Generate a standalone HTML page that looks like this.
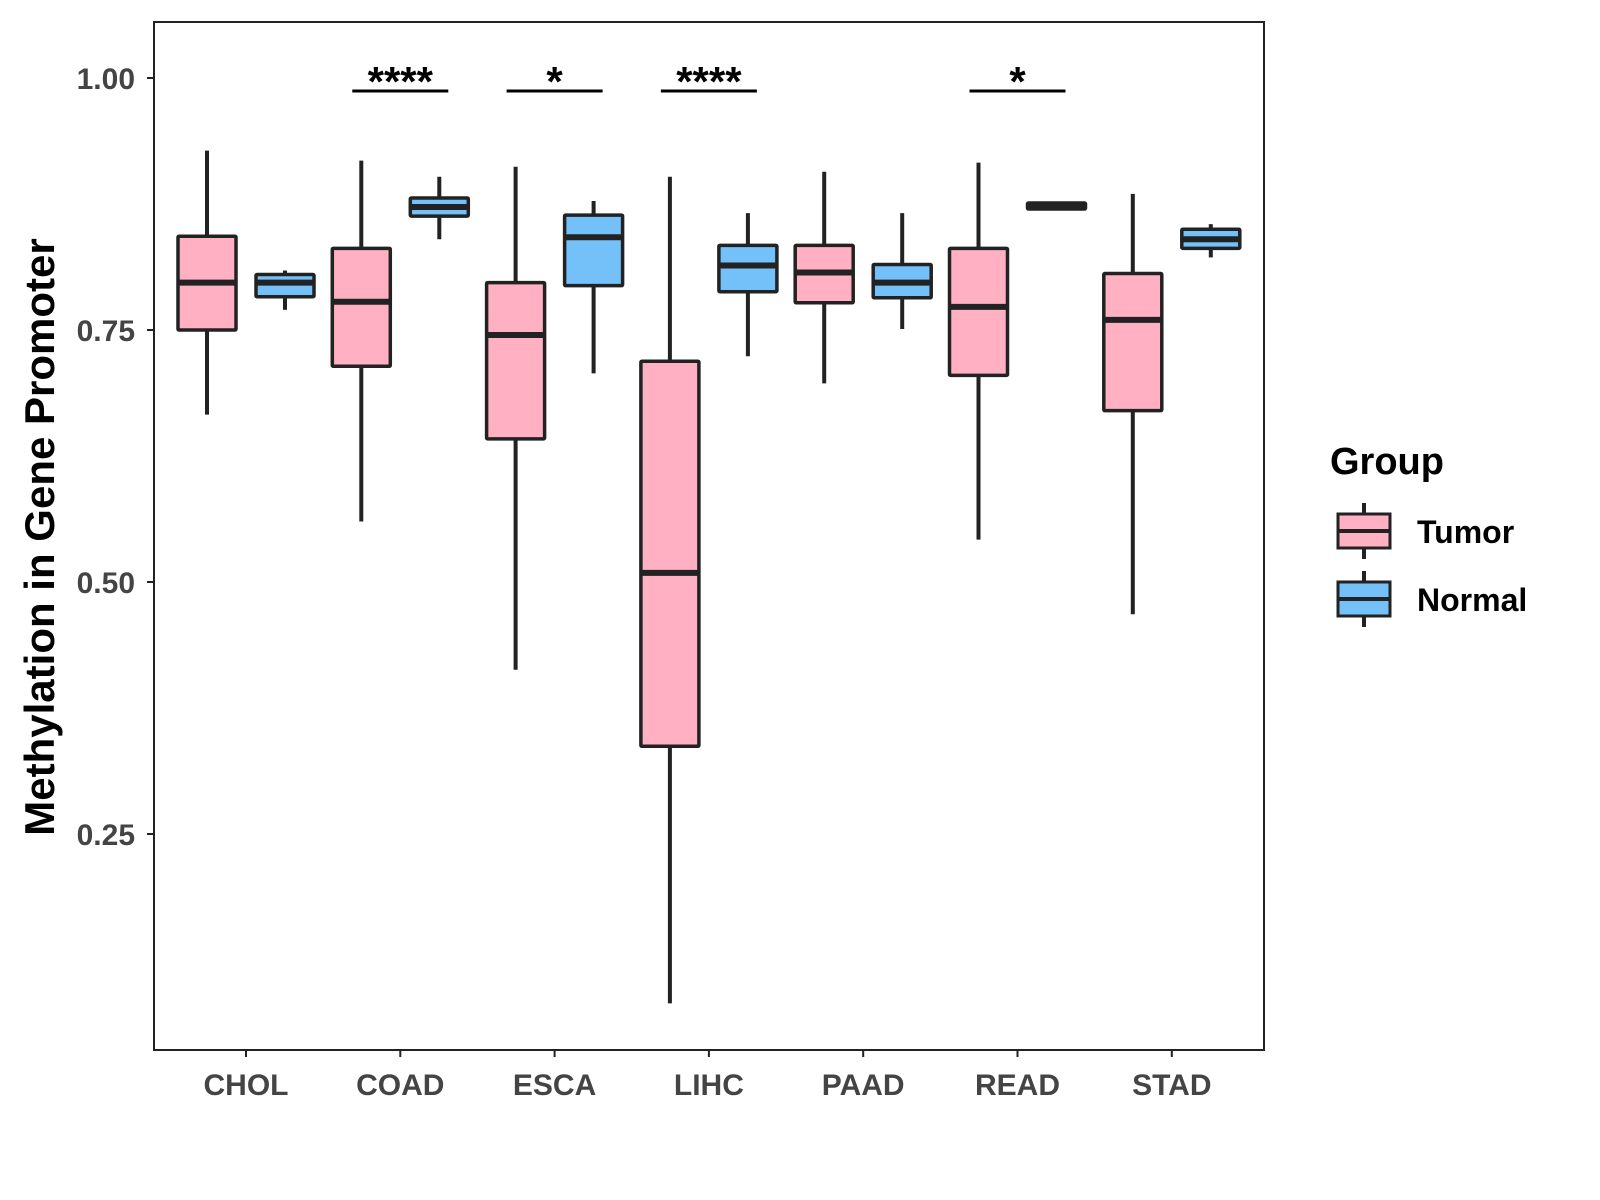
<!DOCTYPE html>
<html><head><meta charset="utf-8"><style>body{margin:0;background:#fff}svg{display:block}text{font-family:"Liberation Sans",Arial,sans-serif;font-weight:bold}</style></head>
<body>
<svg id="chart" width="1600" height="1200" xmlns="http://www.w3.org/2000/svg">
<rect x="154" y="22" width="1110" height="1028" fill="#fff" stroke="#222" stroke-width="2"/>
<g id="marks"></g>
<text transform="translate(54,537) rotate(-90)" text-anchor="middle" font-size="42" fill="#000">Methylation in Gene Promoter</text>
<text x="1330" y="474" font-size="38" fill="#000">Group</text>
<g>
<line x1="1364" y1="503" x2="1364" y2="559" stroke="#222" stroke-width="4"/>
<rect x="1338" y="514" width="52" height="34" fill="#ffb0c2" stroke="#222" stroke-width="3"/>
<line x1="1338" y1="531" x2="1390" y2="531" stroke="#222" stroke-width="4"/>
<text x="1417" y="543" font-size="32" fill="#000">Tumor</text></g>
<g>
<line x1="1364" y1="571" x2="1364" y2="627" stroke="#222" stroke-width="4"/>
<rect x="1338" y="582" width="52" height="34" fill="#74c0f8" stroke="#222" stroke-width="3"/>
<line x1="1338" y1="599" x2="1390" y2="599" stroke="#222" stroke-width="4"/>
<text x="1417" y="611" font-size="32" fill="#000">Normal</text></g>
</svg>
<script>
const categories=["CHOL","COAD","ESCA","LIHC","PAAD","READ","STAD"];
// [whiskerHigh, whiskerLow, q3, q1, median]
const tumor=[[0.928,0.666,0.843,0.750,0.797],[0.918,0.560,0.831,0.714,0.778],[0.912,0.413,0.797,0.642,0.745],[0.902,0.082,0.719,0.337,0.509],[0.907,0.697,0.834,0.777,0.807],[0.916,0.542,0.831,0.705,0.773],[0.885,0.468,0.806,0.670,0.760]];
const normal=[[0.809,0.770,0.805,0.783,0.797],[0.902,0.840,0.881,0.863,0.872],[0.878,0.707,0.864,0.794,0.842],[0.866,0.724,0.834,0.788,0.814],[0.866,0.751,0.815,0.782,0.797],[0.876,0.870,0.876,0.870,0.873],[0.855,0.822,0.850,0.831,0.840]];
const yTicks=[0.25,0.50,0.75,1.00];
const yTickLabels=["0.25","0.50","0.75","1.00"];
const sigCats=["COAD","ESCA","LIHC","READ"];
const sigLabels=["****","*","****","*"];
const NS="http://www.w3.org/2000/svg";
const g=document.getElementById('marks');
function y(v){return 78+(1-v)*1008;}
function x(i){return 246+i*154.3;}
function el(t,a,p){const e=document.createElementNS(NS,t);for(const k in a)e.setAttribute(k,a[k]);(p||g).appendChild(e);return e;}
yTicks.forEach((v,i)=>{
 const l=el('line',{x1:147,x2:154,y1:y(v),y2:y(v),stroke:'#222','stroke-width':2});
 
 
 const t=el('text',{x:135,y:y(v)+11,'text-anchor':'end','font-size':30,fill:'#444'});
 t.textContent=yTickLabels[i];
 
 
});
categories.forEach((c,i)=>{
 const l=el('line',{x1:x(i),x2:x(i),y1:1050,y2:1057,stroke:'#222','stroke-width':2});
 
 
 const t=el('text',{x:x(i),y:1095,'text-anchor':'middle','font-size':30,fill:'#444'});
 t.textContent=c;
 
 
});
function box(cx,d,fill,name){
 const grp=el('g',{});
 
 
 el('line',{x1:cx,x2:cx,y1:y(d[0]),y2:y(d[1]),stroke:'#222','stroke-width':4},grp);
 el('rect',{x:cx-29,y:y(d[2]),width:58,height:Math.max(y(d[3])-y(d[2]),1),fill:fill,stroke:'#222','stroke-width':3.5,rx:1},grp);
 el('line',{x1:cx-29,x2:cx+29,y1:y(d[4]),y2:y(d[4]),stroke:'#222','stroke-width':6},grp);
}
categories.forEach((c,i)=>{
 box(x(i)-39,tumor[i],'#ffb0c2','box-tumor-'+c.toLowerCase());
 box(x(i)+39,normal[i],'#74c0f8','box-normal-'+c.toLowerCase());
});
sigCats.forEach((c,k)=>{
 const i=categories.indexOf(c);
 const l=el('line',{x1:x(i)-48,x2:x(i)+48,y1:91,y2:91,stroke:'#000','stroke-width':3});
 
 
 const t=el('text',{x:x(i),y:96,'text-anchor':'middle','font-size':42,fill:'#000'});
 t.textContent=sigLabels[k];
 
 
});
</script>
</body></html>
